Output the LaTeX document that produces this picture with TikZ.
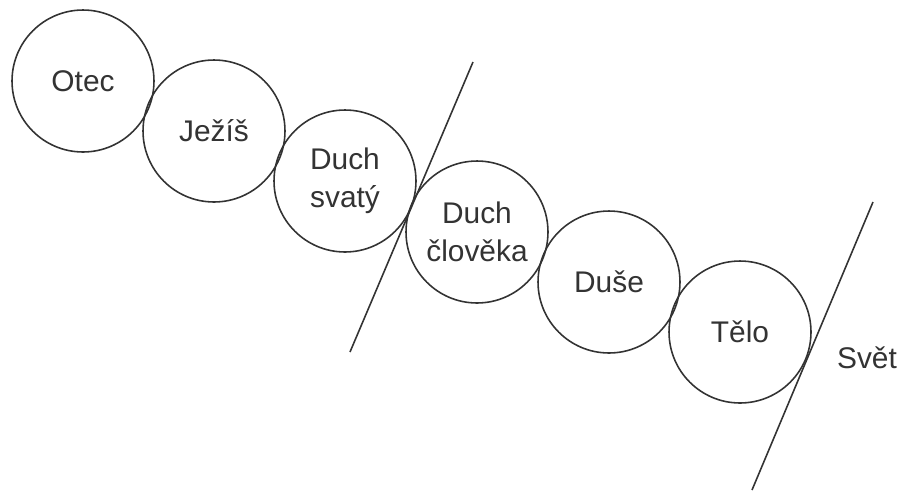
\documentclass[tikz,border=0pt]{standalone}
\usepackage{fontspec}
\setmainfont{Liberation Sans}
\usetikzlibrary{positioning}
\definecolor{inkgray}{HTML}{333333}

\begin{document}
\begin{tikzpicture}[x=0.02cm,y=-0.02cm,
    part/.style={draw=inkgray,circle,line width=0.9pt,minimum size=2.84cm,inner sep=0pt,
        text=inkgray,align=center,font=\fontsize{17}{21.4}\selectfont},
    divider/.style={draw=inkgray,line width=0.9pt}]
\useasboundingbox (0,0) rectangle (902,491);
% The chain of circles, top left to bottom right
\node[part] (otec) at (83,81) {Otec};
\node[part] (jezis) at (214,131) {Ježíš};
\node[part] (duchsv) at (345,181) {Duch\\svatý};
\node[part] (duchcl) at (477,232) {Duch\\člověka};
\node[part] (duse) at (609,282) {Duše};
\node[part] (telo) at (740,332) {Tělo};
%% The two dividing lines
\coordinate (divAtop) at (473,62);
\coordinate (divAbot) at (350,352);
\coordinate (divBtop) at (873,202);
\coordinate (divBbot) at (752,490);
\draw[divider] (divAbot) -- (divAtop); % between the two spirits
\draw[divider] (divBbot) -- (divBtop); % body and world
\node[text=inkgray,font=\fontsize{17}{21.4}\selectfont] (svet) at (867,358) {Svět};
\end{tikzpicture}
\end{document}
